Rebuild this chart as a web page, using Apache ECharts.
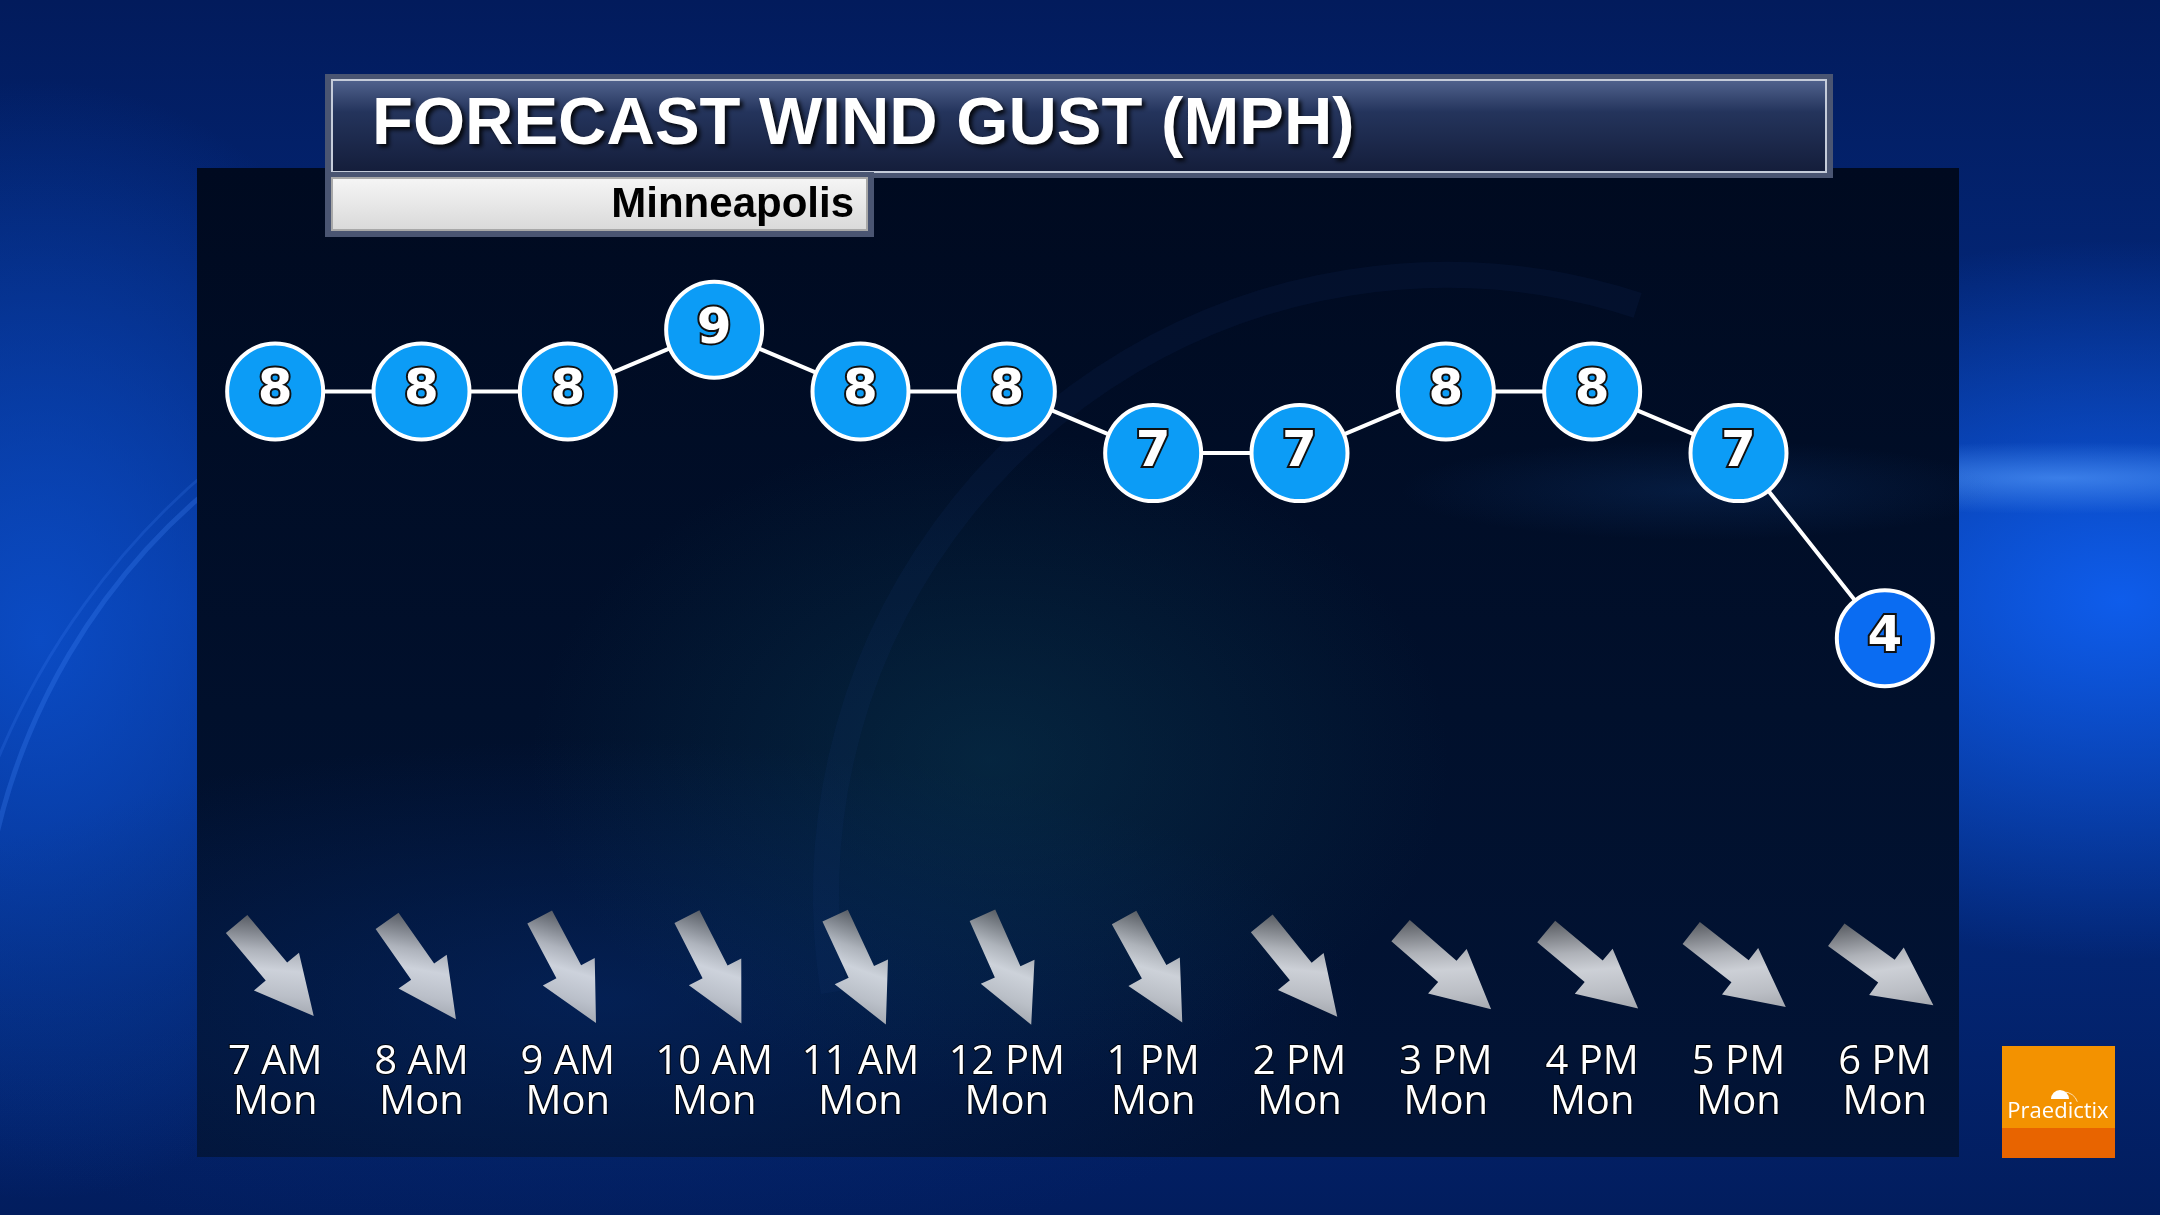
<!DOCTYPE html>
<html><head><meta charset="utf-8">
<script src="https://cdn.jsdelivr.net/npm/echarts@6/dist/echarts.min.js"></script>
<style>html,body{margin:0;padding:0;background:#021a55;}#c{width:2160px;height:1215px;}</style>
</head><body><div id="c"></div>
<script>
// ---- data ----
const hours = ['7 AM','8 AM','9 AM','10 AM','11 AM','12 PM','1 PM','2 PM','3 PM','4 PM','5 PM','6 PM'];
const days = ['Mon','Mon','Mon','Mon','Mon','Mon','Mon','Mon','Mon','Mon','Mon','Mon'];
const gustMph = [8,8,8,9,8,8,7,7,8,8,7,4];
const windFromDeg = [320,325,332,333,335,336,331,321,311,310,308,306];
const titleText = 'FORECAST WIND GUST (MPH)';
const locationName = 'Minneapolis';
const brandName = 'Praedictix';

const categories = hours.map((h, i) => h + '\n' + days[i]);
const arrowPath = 'path://M42,0 L84,58 L62,58 L62,120 L22,120 L22,58 L0,58 Z';

function radial(c0, c1) {
  return {type:'radial', x:0.5, y:0.5, r:0.5, colorStops:[{offset:0,color:c0},{offset:1,color:c1}]};
}
function glow(z, cx, cy, rx, ry, c0, c1) {
  return {type:'circle', z:z, silent:true, x:cx, y:cy, scaleX:rx/100, scaleY:ry/100,
    shape:{cx:0, cy:0, r:100}, style:{fill: radial(c0, c1)}};
}

const chart = echarts.init(document.getElementById('c'));
chart.setOption({
  animation: false,
  backgroundColor: {type:'linear', x:0, y:0, x2:0, y2:1, colorStops:[
    {offset:0, color:'#021b5c'}, {offset:0.5, color:'#04308f'}, {offset:1, color:'#021d5e'}]},
  graphic: [
    // outer background glows
    glow(0, 40, 640, 420, 560, 'rgba(12,80,205,0.85)', 'rgba(12,80,205,0)'),
    glow(0, 2120, 600, 560, 360, 'rgba(15,95,240,0.95)', 'rgba(15,95,240,0)'),
    glow(0, 2060, 478, 360, 36, 'rgba(90,160,255,0.6)', 'rgba(90,160,255,0)'),
    {type:'arc', z:0, shape:{cx:620, cy:980, r:640, startAngle:Math.PI*1.05, endAngle:Math.PI*1.55}, style:{stroke:'rgba(70,140,255,0.25)', lineWidth:5, fill:null}},
    {type:'arc', z:0, shape:{cx:700, cy:1050, r:760, startAngle:Math.PI*1.0, endAngle:Math.PI*1.4}, style:{stroke:'rgba(70,140,255,0.18)', lineWidth:3, fill:null}},
    // panel
    {type:'rect', z:1, shape:{x:197, y:168, width:1762, height:989}, style:{fill:{type:'linear', x:0, y:0, x2:0, y2:1, colorStops:[
      {offset:0, color:'#000a20'}, {offset:0.55, color:'#01102c'}, {offset:1, color:'#021437'}]}}},
    glow(1, 600, 1000, 760, 260, 'rgba(6,45,115,0.5)', 'rgba(6,45,115,0)'),
    glow(1, 990, 760, 460, 330, 'rgba(15,85,105,0.3)', 'rgba(15,85,105,0)'),
    glow(1, 1700, 490, 300, 50, 'rgba(20,70,140,0.25)', 'rgba(20,70,140,0)'),
    {type:'arc', z:1, shape:{cx:1446, cy:895, r:620, startAngle:Math.PI*0.95, endAngle:Math.PI*1.6}, style:{stroke:'rgba(25,60,120,0.12)', lineWidth:26, fill:null}},
    // title bar
    {type:'rect', z:10, shape:{x:325, y:74, width:1508, height:104}, style:{fill:'#4a5572'}},
    {type:'rect', z:10, shape:{x:332, y:80, width:1494, height:92}, style:{
      fill:{type:'linear', x:0, y:0, x2:0, y2:1, colorStops:[{offset:0,color:'#52648f'},{offset:0.35,color:'#24345c'},{offset:1,color:'#141d3a'}]},
      stroke:'#c5ccda', lineWidth:2}},
    {type:'text', z:11, style:{x:372, y:126, text:titleText, fill:'#ffffff', font:'bold 67px "Liberation Sans", Arial, sans-serif',
      textVerticalAlign:'middle', textShadowColor:'rgba(0,0,0,0.85)', textShadowBlur:4, textShadowOffsetX:3, textShadowOffsetY:3}},
    // subtitle box
    {type:'rect', z:10, shape:{x:325, y:172, width:549, height:65}, style:{fill:'#4a5572'}},
    {type:'rect', z:10, shape:{x:332, y:178, width:535, height:52}, style:{
      fill:{type:'linear', x:0, y:0, x2:0, y2:1, colorStops:[{offset:0,color:'#f6f6f6'},{offset:1,color:'#d9d9d9'}]},
      stroke:'#a8a8a8', lineWidth:2}},
    {type:'text', z:11, style:{x:854, y:205, text:locationName, fill:'#000000', font:'bold 42px "Liberation Sans", Arial, sans-serif',
      textAlign:'right', textVerticalAlign:'middle'}},
    // logo
    {type:'rect', z:10, shape:{x:2002, y:1046, width:113, height:82}, style:{fill:'#f39200'}},
    {type:'rect', z:10, shape:{x:2002, y:1128, width:113, height:30}, style:{fill:'#e86400'}},
    {type:'sector', z:11, shape:{cx:2060, cy:1099, r0:0, r:9, startAngle:Math.PI, endAngle:Math.PI*2}, style:{fill:'#ffffff'}},
    {type:'arc', z:11, shape:{cx:2064, cy:1106, r:14, startAngle:Math.PI*1.5, endAngle:Math.PI*1.9}, style:{stroke:'rgba(255,255,255,0.7)', lineWidth:1, fill:null}},
    {type:'text', z:11, style:{x:2058, y:1112, text:brandName, fill:'#ffffff', font:'22px "Open Sans", sans-serif',
      textAlign:'center', textVerticalAlign:'middle'}}
  ],
  grid: [
    {left:202, right:202, top:268, height:617},
    {left:202, right:202, top:908, height:124}
  ],
  xAxis: [
    {gridIndex:0, type:'category', data:categories, boundaryGap:true, show:false},
    {gridIndex:1, type:'category', data:categories, boundaryGap:true, z:6,
      axisLine:{show:false}, axisTick:{show:false}, splitLine:{show:false},
      axisLabel:{interval:0, margin:11, color:'#ffffff', fontSize:40, lineHeight:40, fontFamily:'"Open Sans", "Noto Sans", sans-serif',
        textBorderColor:'rgba(0,0,0,0.8)', textBorderWidth:2}}
  ],
  yAxis: [
    {gridIndex:0, type:'value', min:0, max:10, show:false},
    {gridIndex:1, type:'value', min:0, max:1, show:false}
  ],
  series: [
    {
      type:'line', xAxisIndex:0, yAxisIndex:0, z:5,
      data: gustMph.map(v => ({value:v, itemStyle:{color: v <= 4 ? '#0a6cf2' : '#0c9cf6'}})),
      symbol:'circle', symbolSize:96,
      itemStyle:{borderColor:'#ffffff', borderWidth:4},
      lineStyle:{color:'#ffffff', width:4},
      label:{show:true, position:'inside', formatter:'{c}', fontSize:50, fontWeight:'bold',
        fontFamily:'"DejaVu Sans", sans-serif', color:'#ffffff', textBorderColor:'#111111', textBorderWidth:4},
      emphasis:{disabled:true}, silent:true
    },
    {
      type:'scatter', xAxisIndex:1, yAxisIndex:1, z:5,
      data: windFromDeg.map((d, i) => ({value:[i, 0.5], symbolRotate: -(d - 180)})),
      symbol: arrowPath, symbolSize:[84,120], symbolKeepAspect:true,
      itemStyle:{color:{type:'linear', x:0, y:1, x2:1, y2:0, colorStops:[
        {offset:0, color:'#4a4a4a'}, {offset:0.35, color:'#d8d8d8'}, {offset:0.5, color:'#ffffff'},
        {offset:0.7, color:'#e8e8e8'}, {offset:1, color:'#b0b0b0'}]}},
      emphasis:{disabled:true}, silent:true
    }
  ]
});
</script>
</body></html>
